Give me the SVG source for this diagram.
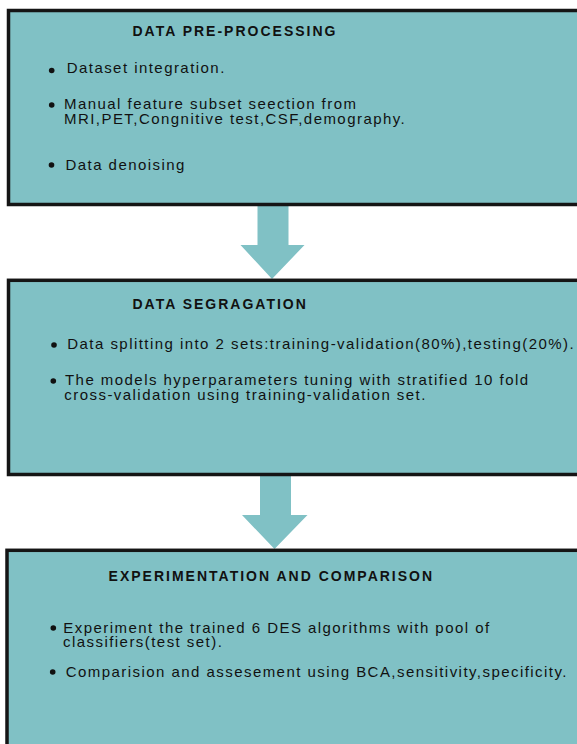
<svg xmlns="http://www.w3.org/2000/svg" width="577" height="744" viewBox="0 0 577 744">
<style>
.box{fill:#80c1c5;stroke:#151515;stroke-width:3.5}
.arrow{fill:#80c1c5}
.title{font-family:"Liberation Sans",Arial,sans-serif;font-weight:bold;font-size:14px;letter-spacing:2px;fill:#111}
.body{font-family:"Liberation Sans",Arial,sans-serif;font-size:15px;letter-spacing:1.45px;fill:#111}
.dot{fill:#111}
</style>
<rect width="577" height="744" fill="#ffffff"/>
<g id="connectors">
<polygon class="arrow" points="257.5,206 288.5,206 288.5,245 304.5,245 272,279 240.5,245 257.5,245"/>
<polygon class="arrow" points="260,476 291,476 291,515 307.5,515 274.5,549 242,515 260,515"/>
</g>
<g id="node-preprocessing">
<rect class="box" x="8.5" y="10.5" width="600" height="194"/>
<text class="title" x="132.5" y="36">DATA PRE-PROCESSING</text>
<circle class="dot" cx="51.7" cy="70.5" r="2.8"/>
<text class="body" x="66.7" y="73.3">Dataset integration.</text>
<circle class="dot" cx="51.7" cy="105" r="2.8"/>
<text class="body" x="64" y="109.3">Manual feature subset seection from</text>
<text class="body" x="64" y="124.3">MRI,PET,Congnitive test,CSF,demography.</text>
<circle class="dot" cx="51.5" cy="165" r="2.8"/>
<text class="body" x="65.5" y="170">Data denoising</text>
</g>
<g id="node-segregation">
<rect class="box" x="8.5" y="280.3" width="600" height="194.2"/>
<text class="title" x="132.5" y="309">DATA SEGRAGATION</text>
<circle class="dot" cx="54" cy="345" r="2.8"/>
<text class="body" x="67.3" y="349">Data splitting into 2 sets:training-validation(80%),testing(20%).</text>
<circle class="dot" cx="53.3" cy="381" r="2.8"/>
<text class="body" x="65" y="385">The models hyperparameters tuning with stratified 10 fold</text>
<text class="body" x="64.3" y="400">cross-validation using training-validation set.</text>
</g>
<g id="node-experimentation">
<rect class="box" x="7" y="550.3" width="600" height="220"/>
<text class="title" x="108.6" y="581">EXPERIMENTATION AND COMPARISON</text>
<circle class="dot" cx="53.3" cy="628" r="2.8"/>
<text class="body" x="63.3" y="632.7">Experiment the trained 6 DES algorithms with pool of</text>
<text class="body" x="63" y="647.3">classifiers(test set).</text>
<circle class="dot" cx="52.7" cy="672" r="2.8"/>
<text class="body" x="65.7" y="676.7">Comparision and assesement using BCA,sensitivity,specificity.</text>
</g>
</svg>
